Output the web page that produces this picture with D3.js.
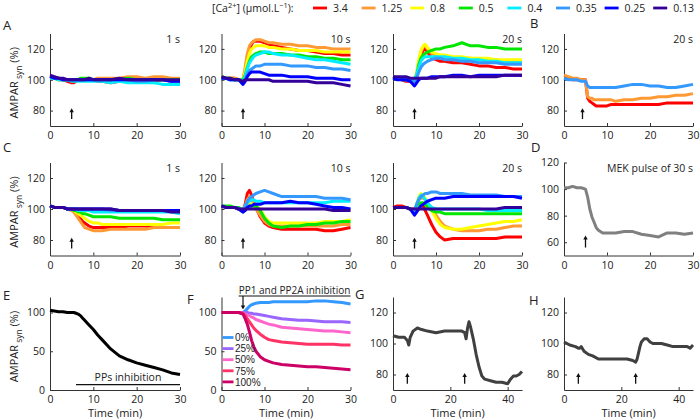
<!DOCTYPE html>
<html>
<head>
<meta charset="utf-8">
<script src="https://cdn.jsdelivr.net/npm/d3@7"></script>
<style>
body { margin: 0; background: #fff; }
svg { font-family: "Open Sans", sans-serif; font-size: 10.5px; fill: #222; }
.axis path, .axis line { stroke: #333; }
.axis text { fill: #222; }
</style>
</head>
<body>
<svg width="700" height="419"></svg>
<script>
// time base for the 30 min panels (minutes)
const T = [0,1,2,3,4,5, 5.5,6,6.5,7,7.5,8, 9,10,11,12, 14,16,18,20,22,24,26,28,30];
// time base for G and H (45 min)
const TG = [0,2,4,5,5.5,6,7,8.5,10,12, 15,18,20,22,24,25,25.5,26,26.5,27, 28,29,30,31,32,34,36,38,40,41, 42,43,44,45];

const caLevels = ['3.4', '1.25', '0.8', '0.5', '0.4', '0.35', '0.25', '0.13'];
const caColors = ['#ff0000', '#ff9933', '#ffff00', '#00e600', '#00eeff', '#3399ff', '#0000ff', '#330099'];

// A: 1 s, 10 s, 20 s (one row per Ca level, same order as caLevels)
const a1 = [
  [101,101,100,100,99,98, 98,99,100,100,100,100, 100,100,99,99, 98,99,100,100,100,99,100,99,99],
  [102,101,101,100,100,100, 100,100,100,100,100,100, 100,100,101,101, 101,101,102,102,101,102,102,101,101],
  [102,101,101,100,100,100, 100,100,100,100,100,100, 100,100,100,100, 100,100,100,100,100,100,100,100,100],
  [101,101,100,100,100,100, 100,100,100,101,101,101, 101,100,100,100, 100,100,101,100,100,100,100,100,100],
  [101,101,100,100,100,99, 99,99,99,99,99,99, 99,99,99,99, 98,99,98,98,98,98,97,97,97],
  [102,101,101,100,100,100, 100,100,100,100,100,100, 100,100,100,100, 100,100,100,99,99,100,100,99,99],
  [102,101,101,100,100,100, 100,100,100,100,100,100, 100,100,100,100, 100,100,100,100,100,100,100,99,99],
  [103,102,101,101,100,100, 100,100,100,100,100,100, 101,100,100,100, 100,101,100,100,100,100,100,100,100]
];
const a2 = [
  [102,101,101,101,100,100, 106,115,120,123,125,125, 125,124,123,122, 121,120,119,119,118,117,117,116,116],
  [102,101,101,101,100,100, 108,117,122,124,125,126, 126,125,124,124, 123,123,122,122,121,121,120,120,120],
  [102,101,101,100,100,100, 105,112,117,120,121,122, 122,122,121,121, 120,120,119,119,119,118,118,118,118],
  [102,101,101,100,100,100, 103,108,112,115,116,117, 118,118,117,117, 117,116,116,115,115,114,114,113,113],
  [101,101,100,100,100,99, 102,107,111,113,115,116, 117,118,118,117, 116,116,115,114,113,113,112,111,110],
  [101,101,100,100,100,98, 100,104,106,107,108,109, 109,110,110,110, 110,109,109,109,108,108,107,107,106],
  [101,101,100,100,100,97, 99,102,104,105,105,105, 105,104,103,103, 103,102,102,102,101,101,101,100,100],
  [102,101,101,100,100,99, 100,100,100,100,100,100, 100,100,100,99, 99,99,99,99,98,98,98,97,96]
];
const a3 = [
  [102,101,100,99,99,99, 102,110,116,119,120,118, 114,113,112,112, 111,111,110,109,109,108,108,107,107],
  [102,101,101,100,100,100, 104,112,118,121,122,120, 117,116,115,115, 114,114,114,113,113,113,112,112,112],
  [102,101,101,100,100,100, 104,113,119,122,123,121, 118,117,116,116, 115,115,114,114,114,113,113,113,113],
  [102,101,101,100,100,100, 103,110,114,116,117,118, 119,120,120,121, 122,124,122,122,121,121,120,120,120],
  [102,101,101,100,100,100, 103,108,112,114,115,115, 115,115,115,115, 114,114,113,113,112,112,111,111,111],
  [101,101,100,100,100,99, 101,105,108,110,111,112, 113,114,114,113, 113,112,112,111,111,111,110,110,110],
  [101,100,100,100,99,96, 98,100,101,101,101,101, 102,102,102,102, 103,103,102,103,103,103,103,103,103],
  [102,102,102,102,101,101, 101,101,101,101,101,101, 101,101,102,102, 102,102,102,102,102,102,103,103,103]
];
// B: 20 s, only three levels (red, orange, light blue)
const bIdx = [0, 1, 5];
const b = [
  [101,101,100,100,100,100, 88,86,85,84,83,83, 83,83,84,84, 84,84,84,84,84,85,85,85,85],
  [103,102,101,101,100,100, 89,88,88,87,87,87, 87,87,87,86, 87,87,88,88,89,89,90,90,91],
  [101,100,100,100,99,99, 96,95,95,95,95,95, 95,95,95,95, 96,97,97,96,96,95,95,96,97]
];
// C: 1 s, 10 s, 20 s
const c1 = [
  [102,101,101,101,100,100, 99,97,95,94,92,91, 89,88,88,88, 88,88,89,89,89,88,88,88,88],
  [102,101,101,101,100,99, 98,96,94,92,90,88, 87,86,86,86, 87,87,87,87,87,88,88,88,88],
  [102,101,101,101,100,100, 99,98,97,96,95,94, 92,91,91,90, 90,90,90,90,90,90,90,91,91],
  [102,101,101,101,100,100, 99,99,98,98,97,97, 96,95,95,95, 95,94,94,94,94,94,93,93,93],
  [102,101,101,101,100,100, 100,100,99,99,99,99, 99,98,98,98, 98,98,98,98,98,98,98,98,97],
  [102,101,101,101,100,100, 100,100,100,100,100,100, 100,100,100,100, 99,99,99,99,99,99,99,99,99],
  [102,101,101,101,100,100, 100,100,100,100,100,100, 100,100,100,100, 100,99,99,99,99,99,99,99,99],
  [102,101,101,101,100,100, 100,100,100,100,100,100, 100,100,100,100, 100,99,99,99,99,99,99,98,98]
];
const c2 = [
  [102,101,101,101,100,99, 103,110,112,109,104,101, 95,91,89,88, 87,87,87,87,87,86,86,87,88],
  [102,101,101,101,100,99, 102,106,108,106,103,100, 96,92,90,89, 89,89,89,89,89,89,89,90,90],
  [102,101,101,101,100,99, 101,102,103,103,103,102, 100,95,92,91, 91,91,91,91,91,92,92,92,93],
  [102,102,102,101,101,99, 100,101,102,102,102,102, 99,94,91,89, 88,89,89,90,90,91,91,92,92],
  [102,101,101,101,100,99, 102,104,105,106,106,105, 105,104,104,104, 104,104,104,104,104,104,105,105,105],
  [102,101,101,101,100,98, 101,105,107,108,109,110, 111,112,111,110, 108,108,108,108,108,107,107,107,106],
  [102,101,101,101,100,98, 99,101,102,102,103,103, 103,104,104,104, 104,105,104,104,103,102,101,101,100],
  [102,101,101,101,100,100, 100,100,100,100,100,100, 100,100,100,100, 100,100,100,100,100,100,99,99,99]
];
const c3 = [
  [101,102,102,101,100,100, 101,102,103,102,99,96, 90,85,82,80, 81,81,81,81,81,81,82,82,82],
  [101,101,101,101,100,99, 102,106,107,107,106,104, 100,96,92,89, 87,86,86,86,87,87,88,89,89],
  [101,101,101,101,100,99, 103,108,110,109,107,104, 99,94,90,88, 87,87,88,89,90,91,92,92,93],
  [101,101,101,101,100,99, 101,103,104,104,103,101, 99,98,98,97, 97,97,97,97,97,97,97,97,97],
  [101,101,101,101,100,99, 103,107,109,108,106,104, 101,100,100,100, 100,100,100,100,99,99,99,99,99],
  [101,101,101,101,100,99, 103,106,108,109,110,110, 111,111,110,110, 110,110,109,109,109,109,108,108,108],
  [101,101,101,101,100,96, 98,100,102,103,104,105, 106,107,107,107, 108,108,108,108,108,108,108,108,107],
  [101,101,101,101,100,100, 100,100,100,100,100,100, 100,100,100,100, 100,100,100,100,100,100,101,101,101]
];
// D: MEK pulse of 30 s
const dMek = [101,101,102,101,101,100, 94,85,79,75,71,69, 67,67,67,67, 68,68,66,65,64,67,67,66,67];
// E: PPs inhibition
const ePP = [103,102,101,101,100,100, 100,99,98,96,93,90, 84,78,71,65, 53,44,39,35,32,29,26,22,20];
// F: PP1 and PP2A inhibition, by percentage
const fLabels = ['0%', '25%', '50%', '75%', '100%'];
const fColors = ['#3399ff', '#9966ff', '#ff66cc', '#ff3366', '#cc0066'];
const f = [
  [100,100,100,100,100,100, 102,105,108,110,111,112, 113,113,113,114, 114,114,114,114,115,115,114,113,111],
  [100,100,100,100,100,100, 100,100,99,99,98,98, 97,96,95,94, 92,91,90,90,89,88,88,88,87],
  [100,100,100,100,100,99, 98,97,96,94,93,91, 89,87,85,84, 81,80,79,78,77,76,76,75,74],
  [100,100,100,100,100,99, 96,92,88,84,80,77, 72,68,65,64, 62,61,60,59,59,59,59,58,58],
  [100,100,100,100,100,98, 92,85,75,64,56,50, 43,39,37,35, 33,32,31,30,30,29,28,27,26]
];
// G and H: two stimuli
const g = [105,104,104,102,99,104,108,110,109,108, 107,108,108,108,108,107,103,110,114,111, 103,93,85,79,77,76,75,75,74,77, 79,79,80,82];
const h = [101,99,98,97,97,98,95,93,92,90, 90,90,90,90,89,88,90,94,98,101, 103,103,101,100,100,100,99,98,98,98, 98,98,97,99];

const svg = d3.select('svg');

const cols = [[50, 180], [221.5, 350.5], [393, 522], [564, 693]];
const rows = [[126, 33.5], [255.5, 162.5], [390, 297]];

function panel(col, row, xDom, yDom, xTicks, yTicks) {
  const x = d3.scaleLinear().domain(xDom).range(cols[col]);
  const y = d3.scaleLinear().domain(yDom).range(rows[row]);
  const gr = svg.append('g');
  gr.append('g')
    .attr('class', 'axis')
    .attr('transform', `translate(0,${rows[row][0]})`)
    .call(d3.axisBottom(x).tickValues(xTicks).tickSizeInner(-3).tickSizeOuter(0).tickPadding(6))
    .attr('font-size', null).attr('font-family', null);
  gr.append('g')
    .attr('class', 'axis')
    .attr('transform', `translate(${cols[col][0]},0)`)
    .call(d3.axisLeft(y).tickValues(yTicks).tickSizeInner(-3).tickSizeOuter(0).tickPadding(5))
    .attr('font-size', null).attr('font-family', null);
  return { x, y, g: gr };
}

function lines(p, ts, series, colors, w) {
  const line = d3.line()
    .x((d, i) => p.x(ts[i]))
    .y(d => p.y(d));
  p.g.append('g')
    .selectAll('path')
    .data(series)
    .enter()
    .append('path')
    .attr('d', line)
    .attr('fill', 'none')
    .attr('stroke', (d, i) => colors[i])
    .attr('stroke-width', w)
    .attr('stroke-linejoin', 'round');
}

function arrow(p, t, lo, hi) {
  const xx = p.x(t), y0 = p.y(lo), y1 = p.y(hi);
  p.g.append('line')
    .attr('x1', xx).attr('x2', xx).attr('y1', y0).attr('y2', y1 + 2)
    .attr('stroke', '#111').attr('stroke-width', 1.3);
  p.g.append('path')
    .attr('d', `M${xx - 2.2},${y1 + 4} L${xx},${y1} L${xx + 2.2},${y1 + 4} Z`)
    .attr('fill', '#111');
}

function title(p, txt) {
  p.g.append('text')
    .attr('x', p.x.range()[1])
    .attr('y', p.y.range()[1] + 9)
    .attr('text-anchor', 'end')
    .text(txt);
}

const x30 = [0, 10, 20, 30];
const y70 = [80, 100, 120];

// row A
[a1, a2, a3].forEach((s, i) => {
  const p = panel(i, 0, [0, 30], [70, 130], x30, y70);
  lines(p, T, s, caColors, 3);
  arrow(p, 5, 74.5, 81.5);
  title(p, ['1 s', '10 s', '20 s'][i]);
});
const pB = panel(3, 0, [0, 30], [70, 130], x30, y70);
lines(pB, T, b, bIdx.map(i => caColors[i]), 3);
arrow(pB, 4.3, 74.5, 81.5);
title(pB, '20 s');

// row C
[c1, c2, c3].forEach((s, i) => {
  const p = panel(i, 1, [0, 30], [70, 130], x30, y70);
  lines(p, T, s, caColors, 3);
  arrow(p, 5, 74.5, 81.5);
  title(p, ['1 s', '10 s', '20 s'][i]);
});
const pD = panel(3, 1, [0, 30], [50, 120], x30, [60, 80, 100, 120]);
lines(pD, T, [dMek], ['#808080'], 3);
arrow(pD, 5, 56, 65);
title(pD, 'MEK pulse of 30 s');

// row E-H
const pE = panel(0, 2, [0, 30], [0, 120], x30, [0, 50, 100]);
lines(pE, T, [ePP], ['#000'], 3);
pE.g.append('line')
  .attr('x1', pE.x(6)).attr('x2', pE.x(30))
  .attr('y1', pE.y(7)).attr('y2', pE.y(7))
  .attr('stroke', '#111').attr('stroke-width', 1.3);
pE.g.append('text')
  .attr('x', pE.x(18)).attr('y', pE.y(7) - 3.5)
  .attr('text-anchor', 'middle')
  .text('PPs inhibition');

const pF = panel(1, 2, [0, 30], [0, 120], x30, [0, 50, 100]);
lines(pF, T, f, fColors, 3);
pF.g.append('text')
  .attr('x', pF.x(4)).attr('y', 293.5)
  .style('font-size', '10px')
  .text('PP1 and PP2A inhibition');
pF.g.append('line')
  .attr('x1', pF.x(4)).attr('x2', pF.x(30))
  .attr('y1', 296).attr('y2', 296)
  .attr('stroke', '#111').attr('stroke-width', 1);
pF.g.append('line')
  .attr('x1', pF.x(5)).attr('x2', pF.x(5))
  .attr('y1', 296).attr('y2', pF.y(104) - 2)
  .attr('stroke', '#111').attr('stroke-width', 1.2);
pF.g.append('path')
  .attr('d', `M${pF.x(5) - 2.2},${pF.y(104) - 4} L${pF.x(5)},${pF.y(104)} L${pF.x(5) + 2.2},${pF.y(104) - 4} Z`)
  .attr('fill', '#111');
const fLeg = pF.g.append('g')
  .selectAll('g')
  .data(fLabels)
  .enter()
  .append('g')
  .attr('transform', (d, i) => `translate(222.5,${337.5 + i * 11.1})`);
fLeg.append('line')
  .attr('x1', 0).attr('x2', 11)
  .attr('stroke', (d, i) => fColors[i]).attr('stroke-width', 2.8);
fLeg.append('text')
  .attr('x', 12.5).attr('y', 3.7)
  .style('font-family', '"Liberation Sans", sans-serif')
  .style('font-size', '10px')
  .text(d => d);

const x45 = [0, 20, 40];
const pG = panel(2, 2, [0, 45], [70, 130], x45, y70);
lines(pG, TG, [g], ['#404040'], 3);
arrow(pG, 5, 74, 81);
arrow(pG, 25, 74, 81);
const pH = panel(3, 2, [0, 45], [70, 130], x45, y70);
lines(pH, TG, [h], ['#404040'], 3);
arrow(pH, 5, 74, 81);
arrow(pH, 25, 74, 81);

// x labels
[0, 1, 2, 3].forEach(i => {
  svg.append('text')
    .attr('x', (cols[i][0] + cols[i][1]) / 2)
    .attr('y', 417)
    .attr('text-anchor', 'middle')
    .style('font-size', '11px')
    .text('Time (min)');
});

// y labels
rows.forEach(r => {
  const t = svg.append('text')
    .attr('transform', `translate(17.5,${(r[0] + r[1]) / 2 + 3}) rotate(-90)`)
    .attr('text-anchor', 'middle')
    .style('font-size', '11px');
  t.append('tspan').text('AMPAR');
  t.append('tspan').attr('dy', 4).style('font-size', '8.5px').text(' syn');
  t.append('tspan').attr('dy', -4).text(' (%)');
});

// panel letters
const letters = [
  ['A', 3, 30], ['B', 530, 28], ['C', 3, 152], ['D', 531, 152],
  ['E', 3, 300], ['F', 187, 304], ['G', 355, 299], ['H', 529, 305]
];
svg.append('g')
  .selectAll('text')
  .data(letters)
  .enter()
  .append('text')
  .attr('x', d => d[1])
  .attr('y', d => d[2])
  .style('font-size', '13px')
  .text(d => d[0]);

// Ca legend
const leg = svg.append('text').attr('x', 212).attr('y', 12).style('font-size', '10.5px');
leg.append('tspan').text('[Ca');
leg.append('tspan').attr('dy', -4).style('font-size', '7.5px').text('2+');
leg.append('tspan').attr('dy', 4).text('] (\u03bcmol.L');
leg.append('tspan').attr('dy', -4).style('font-size', '7.5px').text('\u22121');
leg.append('tspan').attr('dy', 4).text('):');

const items = svg.append('g')
  .selectAll('g')
  .data(caLevels)
  .enter()
  .append('g')
  .attr('transform', (d, i) => `translate(${313 + i * 48.6},8)`);
items.append('line')
  .attr('x1', 0).attr('x2', 14)
  .attr('stroke', (d, i) => caColors[i]).attr('stroke-width', 2.8);
items.append('text')
  .attr('x', 20).attr('y', 4)
  .text(d => d);
</script>
</body>
</html>
